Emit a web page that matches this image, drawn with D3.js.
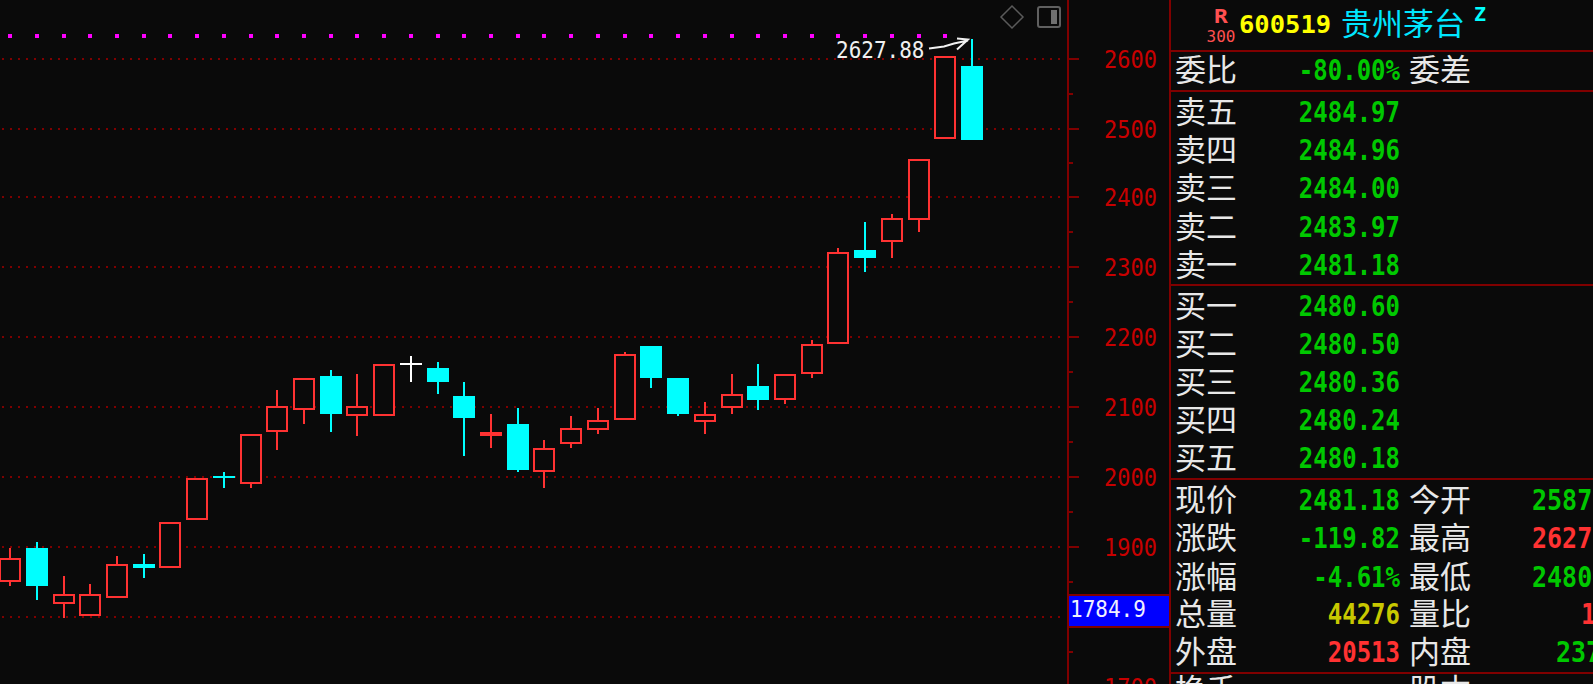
<!DOCTYPE html>
<html><head><meta charset="utf-8">
<script src="https://cdn.jsdelivr.net/npm/d3@7/dist/d3.min.js"></script>
<style>html,body{margin:0;padding:0;background:#0a0a0a;overflow:hidden}svg{display:block}</style>
</head><body><svg id="c" width="1593" height="684"></svg>
<script>
const opens  = [1850,1898.1,1818.6,1801.4,1827.1,1875.2,1870,1938.6,2001.4,1990,2064.3,2095.7,2143.8,2087.1,2087.1,2162.4,2155.2,2115.2,2058.1,2075.2,2007.1,2047.1,2067.1,2081.4,2186.7,2141,2078.6,2098.6,2129.5,2110,2147.1,2190,2323.8,2335.7,2367.1,2484.3,2589.5];
const closes = [1883.3,1843.8,1831.9,1831.9,1874.8,1869.5,1934.8,1997.6,1998.6,2060.5,2100.5,2140.5,2089.5,2100.5,2160.5,2162.4,2135.2,2083.8,2063.8,2009.5,2040.5,2069,2080.5,2174.8,2141,2089.5,2089,2117.6,2109.5,2146.2,2189,2320.5,2312.4,2369,2454.8,2603.3,2484];
const highs  = [1898.1,1906.7,1858.1,1846.7,1886.7,1889.5,1934.8,1997.6,2006.7,2060.5,2123.8,2140.5,2152.4,2146.7,2160.5,2172.4,2163.8,2135.2,2089.5,2098.1,2052.4,2086.7,2098.1,2178.1,2186.7,2141,2106.7,2146.7,2161,2146.2,2195.2,2326.7,2363.8,2375.2,2454.8,2603.3,2627.88];
const lows   = [1843.8,1823.8,1798.1,1801.4,1827.1,1855.2,1870,1938.6,1983.8,1983.8,2038.1,2075.2,2063.8,2058.1,2087.1,2135.2,2118.1,2029.5,2041,2006.7,1983.8,2041,2061,2081.4,2126.7,2086.7,2061,2089.5,2095.2,2103.8,2141,2190,2292.4,2312.4,2350,2484.3,2484];
const topLine = [2633,2633,2633,2633,2633,2633,2633,2633,2633,2633,2633,2633,2633,2633,2633,2633,2633,2633,2633,2633,2633,2633,2633,2633,2633,2633,2633,2633,2633,2633,2633,2633,2633,2633,2633,2633];
const yTicks = [2600,2500,2400,2300,2200,2100,2000,1900,1800,1700];
const yMinor = [2550,2450,2350,2250,2150,2050,1950,1850,1750];
const highLabel = "2627.88";
const currentLabel = "1784.9";
const askRows = [["卖五","2484.97"],["卖四","2484.96"],["卖三","2484.00"],["卖二","2483.97"],["卖一","2481.18"]];
const bidRows = [["买一","2480.60"],["买二","2480.50"],["买三","2480.36"],["买四","2480.24"],["买五","2480.18"]];
const statRows = [
 ["现价","2481.18","#00c800","今开","2587","#00c800",1532],
 ["涨跌","-119.82","#00c800","最高","2627","#ff3232",1532],
 ["涨幅","-4.61%","#00c800","最低","2480","#00c800",1532],
 ["总量","44276","#c8c800","量比","1","#ff3232",1581],
 ["外盘","20513","#ff3232","内盘","237","#00c800",1556]];

const BG="#0a0a0a", RED="#ff3232", CYAN="#00ffff", DR="#800000", WHITE="#e8e8e8", GREEN="#00c800";
const svg=d3.select("#c");
svg.append("rect").attr("width",1593).attr("height",684).attr("fill",BG);

const x=d3.scaleLinear().domain([0,36]).range([10.1,972]);
const y=d3.scaleLinear().domain(yTicks).range([59,129,197,267,337,407,477,547,617,687]);
const py=v=>Math.round(y(v)-0.33);
const MONO="'DejaVu Sans Mono',monospace", CJK="'Noto Sans CJK SC',sans-serif";

function txt(px,pyy,s,o={}){
  const size=o.size||24, sy=o.sy||1;
  return svg.append("text").attr("transform",`translate(${px},${pyy}) scale(${o.sx||1},${sy})`)
    .attr("dy",(o.dy==null?0.365:o.dy)+"em").attr("font-family",o.family||MONO).attr("font-size",size)
    .attr("font-weight",o.weight||"normal").attr("text-anchor",o.anchor||"start").attr("fill",o.fill||WHITE).text(s);
}
const cjk=(px,pyy,s,fill)=>txt(px,pyy,s,{family:CJK,size:31,fill:fill||WHITE,dy:0.36});

// grid
svg.append("g").selectAll("line").data(yTicks).join("line")
  .attr("x1",2).attr("x2",1060).attr("y1",d=>y(d)).attr("y2",d=>y(d))
  .attr("stroke",DR).attr("stroke-width",2).attr("stroke-dasharray","2 6");

// magenta indicator dots
svg.append("g").selectAll("rect").data(topLine).join("rect")
  .attr("x",(d,i)=>Math.round(x(i))-2).attr("y",d=>Math.round(y(d))-2).attr("width",4).attr("height",4).attr("fill","#ff00ff");

// candles
const data=opens.map((o,i)=>({i,o,c:closes[i],h:highs[i],l:lows[i]}));
const g=svg.append("g");
data.forEach(d=>{
  const cx=Math.round(x(d.i));
  const col=d.c>d.o?RED:d.c<d.o?CYAN:"#ffffff";
  const t=py(Math.max(d.o,d.c)), b=py(Math.min(d.o,d.c));
  const ht=py(d.h), lb=py(d.l);
  g.append("rect").attr("x",cx-1).attr("width",2).attr("y",ht).attr("height",Math.max(0,lb-ht)).attr("fill",col);
  const h=Math.max(2,b-t);
  g.append("rect").attr("x",cx-11).attr("width",22).attr("y",t).attr("height",h).attr("fill",col);
  if(d.c>d.o && h>4) g.append("rect").attr("x",cx-9).attr("width",18).attr("y",t+2).attr("height",h-4).attr("fill",BG);
});

// high annotation
const hx=x(36)-4, hy=y(highs[36]);
txt(836,49.5,highLabel,{size:21,fill:"#f0f0f0",sy:1.1});
svg.append("path").attr("d",`M${hx-39},${hy+9}L${hx-24},${hy+7}L${hx-14},${hy+4}L${hx},${hy+1}M${hx-11},${hy-1}L${hx},${hy}L${hx-11},${hy+10}`)
  .attr("fill","none").attr("stroke","#f0f0f0").attr("stroke-width",2);

// tool icons
svg.append("path").attr("d","M1012,6L1023,17L1012,28L1001,17Z").attr("fill","none").attr("stroke","#5a5a5a").attr("stroke-width",1.5);
svg.append("rect").attr("x",1038).attr("y",7).attr("width",22).attr("height",20).attr("rx",2).attr("fill","none").attr("stroke","#606060").attr("stroke-width",2);
svg.append("rect").attr("x",1051).attr("y",10).attr("width",6).attr("height",14).attr("fill","#707070");

// axis
svg.append("rect").attr("x",1067).attr("y",0).attr("width",2).attr("height",684).attr("fill",DR);
const ax=svg.append("g").attr("transform","translate(1068,0)")
  .call(d3.axisRight(y).tickValues(yTicks).tickSize(11).tickFormat(d3.format("d")).offset(0));
ax.select(".domain").remove();
ax.selectAll("line").attr("stroke",DR).attr("stroke-width",2);
ax.selectAll("text").attr("x",89).attr("text-anchor","end").attr("fill","#c80000")
  .attr("font-family",MONO).attr("font-size",22).attr("dy","0.365em");
ax.selectAll("text").each(function(){const s=d3.select(this);
  s.attr("y",0).attr("x",0).attr("transform","translate(89,0) scale(1,1.12)");});
const ax2=svg.append("g").attr("transform","translate(1068,0)")
  .call(d3.axisRight(y).tickValues(yMinor).tickSize(5).tickFormat("").offset(0));
ax2.select(".domain").remove();
ax2.selectAll("line").attr("stroke",DR).attr("stroke-width",2);

// current price box
svg.append("rect").attr("x",1069).attr("y",595).attr("width",100).attr("height",32).attr("fill","#0000ff");
svg.append("rect").attr("x",1068).attr("y",594).attr("width",102).attr("height",2).attr("fill",DR);
svg.append("rect").attr("x",1068).attr("y",626).attr("width",102).attr("height",2).attr("fill",DR);
txt(1070,609,currentLabel,{size:21,fill:"#f0f0ff",sy:1.1});

// panel frame
svg.append("rect").attr("x",1169).attr("y",0).attr("width",2).attr("height",684).attr("fill",DR);
[51,91,285,479,673].forEach(v=>svg.append("rect").attr("x",1169).attr("y",v-1).attr("width",424).attr("height",2).attr("fill",DR));

// header
txt(1221,16,"R",{size:20,weight:"bold",fill:"#ff5050",anchor:"middle",sx:1.15});
txt(1221,36,"300",{size:16,fill:"#ff5050",anchor:"middle"});
txt(1239,24,"600519",{size:25.5,weight:"bold",fill:"#ffff00"});
txt(1341,24,"贵州茅台",{family:CJK,size:31,fill:"#00e6ff",dy:0.36});
txt(1480,14,"Z",{size:20,weight:"bold",fill:"#00ffff",anchor:"middle"});

// rows
const valR=1400, labL=1175, lab2=1409, vopt={size:24,weight:"bold",anchor:"end",sy:1.15};
cjk(labL,70,"委比"); cjk(lab2,70,"委差");
txt(valR,70,"-80.00%",{...vopt,fill:GREEN});
[112,150,188,226.5,265].forEach((ry,i)=>{cjk(labL,ry,askRows[i][0]);txt(valR,ry,askRows[i][1],{...vopt,fill:GREEN});});
[306,344,382,420,458].forEach((ry,i)=>{cjk(labL,ry,bidRows[i][0]);txt(valR,ry,bidRows[i][1],{...vopt,fill:GREEN});});
[500,538,576.5,613.5,651.5].forEach((ry,i)=>{const r=statRows[i];
  cjk(labL,ry,r[0]);txt(valR,ry,r[1],{...vopt,fill:r[2]});
  cjk(lab2,ry,r[3]);txt(r[6],ry,r[4],{size:25,weight:"bold",sy:1.12,fill:r[5]});});
cjk(labL,690,"换手"); cjk(lab2,690,"股本");
</script></body></html>
